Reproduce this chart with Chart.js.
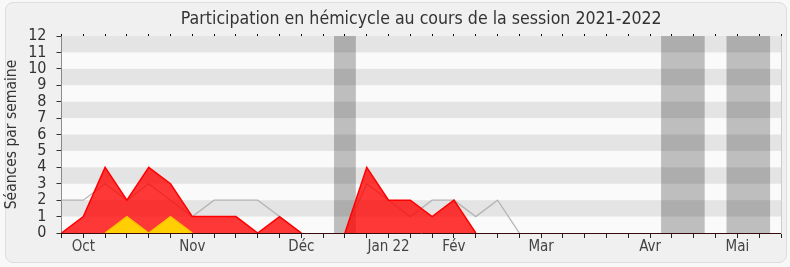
<!DOCTYPE html>
<html>
<head>
<meta charset="utf-8">
<script src="https://cdn.jsdelivr.net/npm/chart.js@4/dist/chart.umd.min.js"></script>
<style>
  html, body { margin: 0; padding: 0; background: #f8f8f8; }
  #frame { position: absolute; left: 5px; top: 2px; width: 780px; height: 259px;
           background: #f0f0f0; border: 1px solid #dedede; border-radius: 8px; }
  #wrap { position: absolute; left: 0; top: 0; width: 790px; height: 267px; }
</style>
</head>
<body>
<div id="frame"></div>
<div id="wrap"><canvas id="c" width="790" height="267"></canvas></div>
<script>
// Weeks of the session (Monday of each week)
const weeks = [
  '2021-09-27','2021-10-04','2021-10-11','2021-10-18','2021-10-25','2021-11-01',
  '2021-11-08','2021-11-15','2021-11-22','2021-11-29','2021-12-06','2021-12-13',
  '2021-12-20','2021-12-27','2022-01-03','2022-01-10','2022-01-17','2022-01-24',
  '2022-01-31','2022-02-07','2022-02-14','2022-02-21','2022-02-28','2022-03-07',
  '2022-03-14','2022-03-21','2022-03-28','2022-04-04','2022-04-11','2022-04-18',
  '2022-04-25','2022-05-02','2022-05-09','2022-05-16'
];
// Tick labels shown under the weeks
const tickLabels = [
  '', 'Oct', '', '', '', '', 'Nov', '', '', '', '', 'Déc', '', '', '', 'Jan 22', '', '',
  'Fév', '', '', '', 'Mar', '', '', '', '', 'Avr', '', '', '', 'Mai', '', ''
];
// Sessions attended per week
const presences = [0,1,4,2,4,3,1,1,1,0,1,0,0,0,4,2,2,1,2,0,0,0,0,0,0,0,0,0,0,0,0,0,0,0];
// Sessions with speaking interventions per week
const interventions = [0,0,0,1,0,1,0,0,0,0,0,0,0,0,0,0,0,0,0,0,0,0,0,0,0,0,0,0,0,0,0,0,0,0];
// Median of all deputies per week
const mediane = [2,2,3,2,3,2,1,2,2,2,1,0,0,0,3,2,1,2,2,1,2,0,0,0,0,0,0,0,0,0,0,0,0,0];
// Holiday (no session) periods, as week-index ranges
const vacances = [[12.5, 13.5], [27.5, 29.5], [30.5, 32.5]];
const yTicks = [0,1,2,3,4,5,6,7,8,9,10,11,12];

const FONT = "'DejaVu Sans Condensed', 'DejaVu Sans', sans-serif";

const hideZero = color => ctx =>
  (ctx.p0.parsed.y === 0 && ctx.p1.parsed.y === 0) ? 'rgba(0,0,0,0)' : color;

const backgroundPlugin = {
  id: 'bgBands',
  beforeDatasetsDraw(chart) {
    const {ctx, chartArea: a, scales: {x, y}} = chart;
    ctx.save();
    ctx.fillStyle = '#fafafa';
    ctx.fillRect(a.left, a.top, a.right - a.left, a.bottom - a.top);
    ctx.fillStyle = '#bebebe';
    vacances.forEach(([s, e]) => {
      const x0 = x.getPixelForValue(s), x1 = x.getPixelForValue(e);
      ctx.fillRect(x0, a.top, x1 - x0, a.bottom - a.top);
    });
    ctx.fillStyle = 'rgba(0,0,0,0.085)';
    for (let v = 1; v < yTicks[yTicks.length - 1]; v += 2) {
      const y0 = y.getPixelForValue(v + 1), y1 = y.getPixelForValue(v);
      ctx.fillRect(a.left, y0, a.right - a.left, y1 - y0);
    }
    ctx.restore();
  },
  afterLayout(chart) {
    const t = chart.titleBlock;
    if (t) { t.left = chart.chartArea.left; t.right = chart.chartArea.right; }
  }
};

new Chart(document.getElementById('c'), {
  type: 'line',
  data: {
    labels: weeks,
    datasets: [
      {
        label: 'Interventions',
        data: interventions,
        borderColor: '#f5c400',
        backgroundColor: 'rgba(255,214,0,0.95)',
        borderWidth: 1.5,
        segment: { borderColor: hideZero('#f5c400') },
        fill: 'origin',
        pointRadius: 0,
        tension: 0,
        order: 0
      },
      {
        label: 'Présences',
        data: presences,
        borderColor: '#ff0000',
        backgroundColor: 'rgba(255,0,0,0.78)',
        borderWidth: 1.5,
        segment: { borderColor: hideZero('#ff0000') },
        fill: 'origin',
        pointRadius: 0,
        tension: 0,
        order: 1
      },
      {
        label: 'Médiane',
        data: mediane,
        borderColor: '#b4b4b4',
        borderWidth: 1.3,
        segment: { borderColor: hideZero('#b4b4b4') },
        fill: false,
        pointRadius: 0,
        tension: 0,
        order: 2
      }
    ]
  },
  options: {
    responsive: false,
    animation: false,
    events: [],
    layout: { padding: { left: 0, right: 9, top: 0, bottom: 0 } },
    plugins: {
      legend: { display: false },
      tooltip: { enabled: false },
      title: {
        display: true,
        text: 'Participation en hémicycle au cours de la session 2021-2022',
        color: '#333333',
        font: { family: FONT, size: 17.6, weight: 'normal', lineHeight: 1.2 },
        padding: { top: 8.5, bottom: 3.4 }
      }
    },
    scales: {
      x: {
        type: 'category',
        position: 'bottom',
        offset: false,
        grid: { display: true, drawOnChartArea: false, drawTicks: true, tickLength: 5, tickColor: '#222', tickWidth: 1 },
        border: { display: true, color: '#3a0a0a', width: 1 },
        ticks: {
          autoSkip: false, maxRotation: 0, padding: 0,
          color: '#444', font: { family: FONT, size: 15 },
          callback: (v, i) => tickLabels[i]
        },
        afterFit: s => { s.height = 34; }
      },
      xTop: {
        type: 'category',
        position: 'top',
        offset: false,
        grid: { display: true, drawOnChartArea: false, drawTicks: true, tickLength: 2, tickColor: '#000', tickWidth: 1 },
        border: { display: true, color: '#dcdcdc', width: 1 },
        ticks: { display: false, autoSkip: false },
        afterFit: s => { s.height = 3 ; }
      },
      y: {
        min: 0, max: 12,
        position: 'left',
        afterBuildTicks: s => { s.ticks = yTicks.map(v => ({ value: v })); },
        grid: { display: true, drawOnChartArea: false, drawTicks: true, tickLength: 5, tickColor: '#333' },
        border: { display: true, color: '#222', width: 1 },
        ticks: { color: '#333', padding: 10, autoSkip: false, stepSize: 1, font: { family: FONT, size: 16, lineHeight: 1 } },
        title: {
          display: true, text: 'Séances par semaine', color: '#333',
          font: { family: FONT, size: 15.5 }, padding: { top: 3, bottom: 0 }
        },
        afterFit: s => { s.width = 61.5; }
      },
      yRight: {
        min: 0, max: 12,
        position: 'right',
        grid: { display: false },
        border: { display: true, color: '#cccccc', width: 1 },
        ticks: { display: false },
        afterFit: s => { s.width = 0; }
      }
    }
  },
  plugins: [backgroundPlugin]
});
</script>
</body>
</html>
